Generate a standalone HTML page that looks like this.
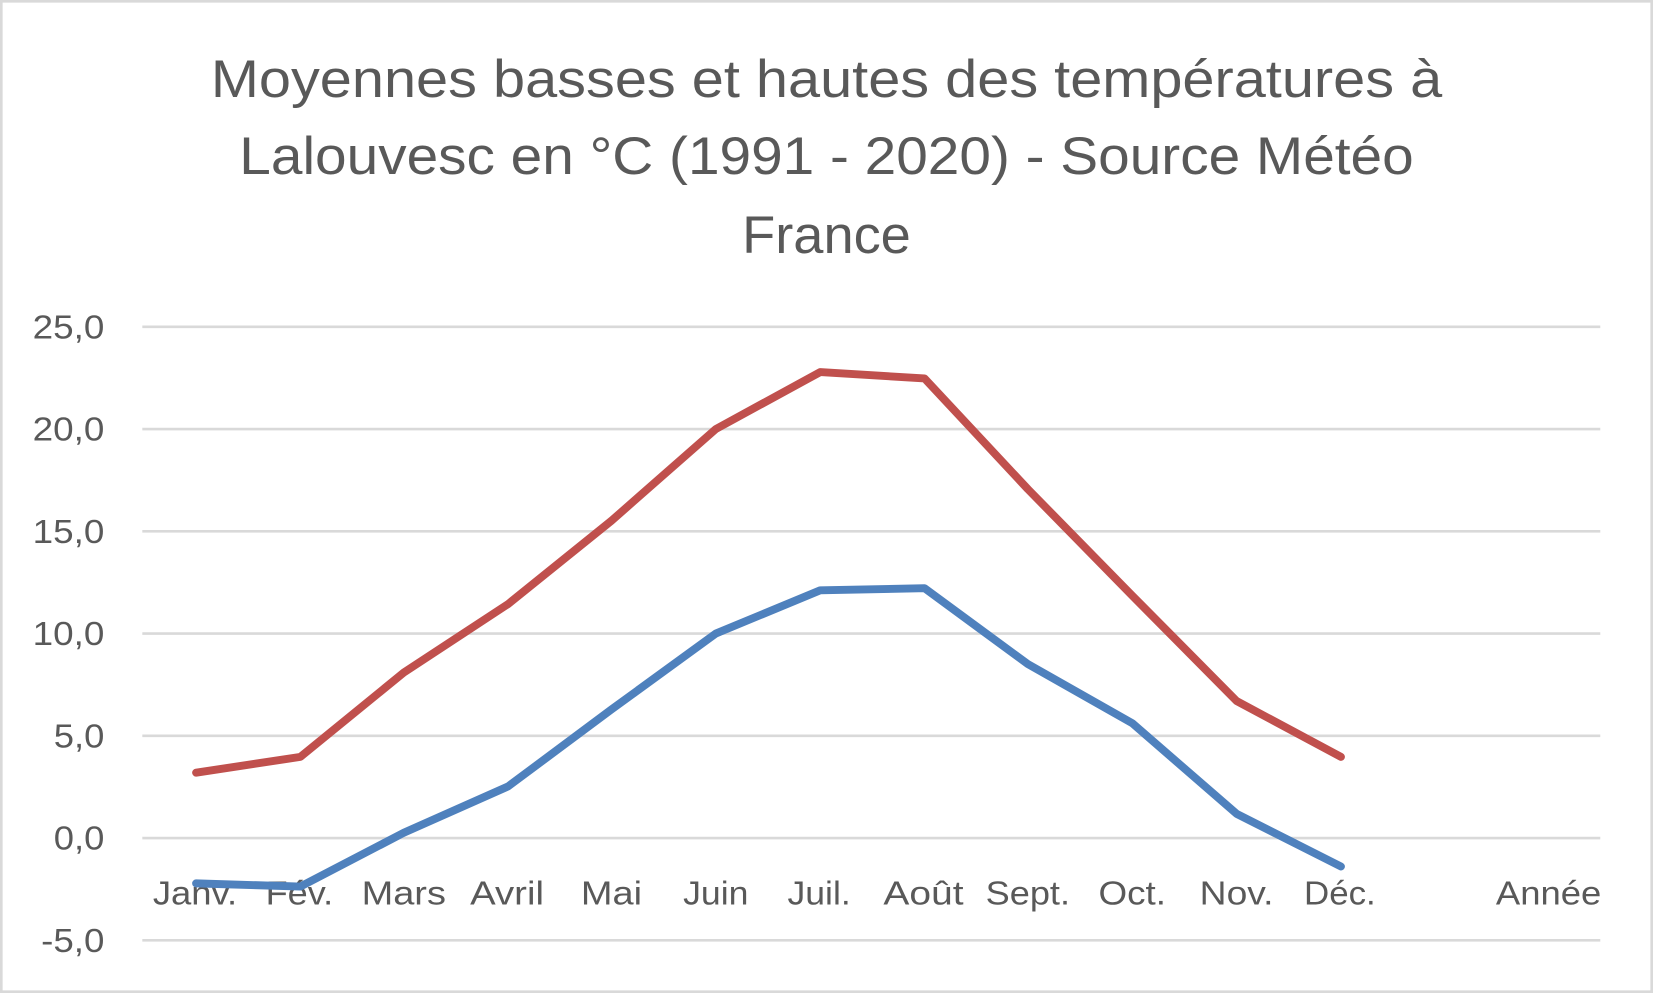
<!DOCTYPE html>
<html><head><meta charset="utf-8"><style>
html,body{margin:0;padding:0;background:#fff;}
svg{display:block;}
text{font-family:"Liberation Sans",sans-serif;fill:#595959;}
</style></head><body>
<svg width="1653" height="993" viewBox="0 0 1568 942" preserveAspectRatio="none" xmlns="http://www.w3.org/2000/svg">
<rect x="1" y="1" width="1566" height="940" fill="#fff" stroke="#d9d9d9" stroke-width="3"/>
<g font-size="50" text-anchor="middle">
<text x="784" y="92" textLength="1168" lengthAdjust="spacingAndGlyphs">Moyennes basses et hautes des températures à</text>
<text x="784" y="165" textLength="1114" lengthAdjust="spacingAndGlyphs">Lalouvesc en °C (1991 - 2020) - Source Météo</text>
<text x="784" y="240" textLength="160" lengthAdjust="spacingAndGlyphs">France</text>
</g>
<g stroke="#d9d9d9" stroke-width="2.5">
<line x1="135" x2="1518" y1="310" y2="310"/>
<line x1="135" x2="1518" y1="407" y2="407"/>
<line x1="135" x2="1518" y1="504" y2="504"/>
<line x1="135" x2="1518" y1="601" y2="601"/>
<line x1="135" x2="1518" y1="698" y2="698"/>
<line x1="135" x2="1518" y1="795" y2="795"/>
<line x1="135" x2="1518" y1="892" y2="892"/>
</g>
<g font-size="32" text-anchor="end">
<text x="99" y="321" textLength="68" lengthAdjust="spacingAndGlyphs">25,0</text>
<text x="99" y="418" textLength="68" lengthAdjust="spacingAndGlyphs">20,0</text>
<text x="99" y="515" textLength="68" lengthAdjust="spacingAndGlyphs">15,0</text>
<text x="99" y="612" textLength="68" lengthAdjust="spacingAndGlyphs">10,0</text>
<text x="99" y="709" textLength="48" lengthAdjust="spacingAndGlyphs">5,0</text>
<text x="99" y="806" textLength="48" lengthAdjust="spacingAndGlyphs">0,0</text>
<text x="99" y="903" textLength="60" lengthAdjust="spacingAndGlyphs">-5,0</text>
</g>
<g font-size="32" text-anchor="middle">
<text x="185" y="858" textLength="80" lengthAdjust="spacingAndGlyphs">Janv.</text>
<text x="284" y="858" textLength="64" lengthAdjust="spacingAndGlyphs">Fév.</text>
<text x="383" y="858" textLength="80" lengthAdjust="spacingAndGlyphs">Mars</text>
<text x="481" y="858" textLength="70" lengthAdjust="spacingAndGlyphs">Avril</text>
<text x="580" y="858" textLength="58" lengthAdjust="spacingAndGlyphs">Mai</text>
<text x="679" y="858" textLength="62" lengthAdjust="spacingAndGlyphs">Juin</text>
<text x="777" y="858" textLength="60" lengthAdjust="spacingAndGlyphs">Juil.</text>
<text x="876" y="858" textLength="76" lengthAdjust="spacingAndGlyphs">Août</text>
<text x="975" y="858" textLength="80" lengthAdjust="spacingAndGlyphs">Sept.</text>
<text x="1074" y="858" textLength="64" lengthAdjust="spacingAndGlyphs">Oct.</text>
<text x="1173" y="858" textLength="70" lengthAdjust="spacingAndGlyphs">Nov.</text>
<text x="1271" y="858" textLength="68" lengthAdjust="spacingAndGlyphs">Déc.</text>
<text x="1469" y="858" textLength="100" lengthAdjust="spacingAndGlyphs">Année</text>
</g>
<polyline fill="none" stroke="#c0504d" stroke-width="7.5" stroke-linecap="round" stroke-linejoin="round"
points="186,733 285,718 383,638 482,573 580,494 679,407 778,353 877,359 975,464 1074,565 1173,665 1272,718"/>
<polyline fill="none" stroke="#4f81bd" stroke-width="7.5" stroke-linecap="round" stroke-linejoin="round"
points="186,838 285,841 383,790 482,746 580,673 679,601 778,560 877,558 975,630 1074,686 1173,772 1272,822"/>
</svg>
</body></html>
